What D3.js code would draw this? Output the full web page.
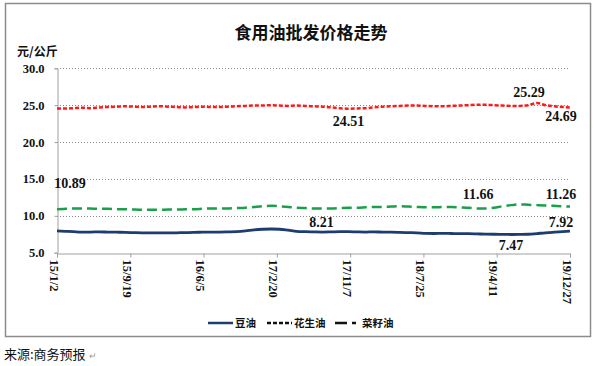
<!DOCTYPE html>
<html><head><meta charset="utf-8">
<script src="https://cdn.jsdelivr.net/npm/d3@7"></script>
<style>body{margin:0;background:#fff}svg{display:block}</style>
</head><body><svg id="c" width="594" height="366"></svg>
<script>
const dates = ["2015-01-02","2015-02-01","2015-03-01","2015-04-01","2015-05-01","2015-06-01","2015-07-01","2015-08-01","2015-09-01","2015-10-01","2015-11-01","2015-12-01",
"2016-01-01","2016-02-01","2016-03-01","2016-04-01","2016-05-01","2016-06-01","2016-07-01","2016-08-01","2016-09-01","2016-10-01","2016-11-01","2016-12-01",
"2017-01-01","2017-02-01","2017-03-01","2017-04-01","2017-05-01","2017-06-01","2017-07-01","2017-08-01","2017-09-01","2017-10-01","2017-11-01","2017-12-01",
"2018-01-01","2018-02-01","2018-03-01","2018-04-01","2018-05-01","2018-06-01","2018-07-01","2018-08-01","2018-09-01","2018-10-01","2018-11-01","2018-12-01",
"2019-01-01","2019-02-01","2019-03-01","2019-04-01","2019-05-01","2019-06-01","2019-07-01","2019-08-01","2019-09-01","2019-10-01","2019-11-01","2019-12-01","2019-12-27"];
const soybean = [7.95,7.9,7.85,7.8,7.8,7.82,7.8,7.78,7.75,7.72,7.7,7.7,
7.7,7.68,7.7,7.72,7.75,7.78,7.8,7.8,7.82,7.85,7.95,8.1,
8.18,8.21,8.18,8.05,7.9,7.85,7.82,7.8,7.82,7.85,7.85,7.82,
7.8,7.82,7.8,7.78,7.75,7.72,7.7,7.62,7.6,7.62,7.6,7.58,
7.58,7.55,7.52,7.5,7.48,7.47,7.48,7.5,7.6,7.7,7.78,7.85,7.92];
const peanut = [24.55,24.55,24.6,24.65,24.6,24.7,24.75,24.8,24.85,24.8,24.75,24.8,
24.85,24.8,24.75,24.7,24.75,24.8,24.75,24.75,24.8,24.85,24.9,24.95,
24.95,25.0,24.95,24.9,24.95,24.9,24.85,24.8,24.7,24.6,24.51,24.55,
24.6,24.7,24.8,24.85,24.9,24.95,24.95,24.9,24.85,24.85,24.9,24.95,
25.0,25.05,25.05,25.0,24.95,24.9,24.9,25.0,25.29,25.0,24.85,24.75,24.69];
const rapeseed = [10.89,10.95,11.0,11.0,10.98,10.95,10.95,10.9,10.9,10.85,10.82,10.82,
10.82,10.85,10.85,10.88,10.9,10.95,11.0,11.0,11.0,11.05,11.1,11.2,
11.3,11.35,11.3,11.2,11.1,11.05,11.0,11.0,11.0,11.05,11.1,11.1,
11.15,11.2,11.2,11.25,11.3,11.25,11.2,11.15,11.15,11.2,11.2,11.15,
11.1,11.0,11.0,11.1,11.3,11.45,11.55,11.5,11.45,11.4,11.35,11.3,11.26];
const seriesNames = ["豆油","花生油","菜籽油"];
const xTickDates = ["2015-01-02","2015-09-19","2016-06-05","2017-02-20","2017-11-07","2018-07-25","2019-04-11","2019-12-27"];
const xTickLabels = ["15/1/2","15/9/19","16/6/5","17/2/20","17/11/7","18/7/25","19/4/11","19/12/27"];
const yTicks = [5,10,15,20,25,30];
const annotations = [
  {date:"2015-01-02", value:10.89, text:"10.89", dx:13, dy:-21},
  {date:"2017-02-01", value:8.21, text:"8.21", dx:50, dy:-2},
  {date:"2019-12-27", value:7.92, text:"7.92", dx:-9, dy:-4},
  {date:"2019-06-01", value:7.47, text:"7.47", dx:0, dy:16},
  {date:"2017-11-01", value:24.51, text:"24.51", dx:0, dy:17},
  {date:"2019-09-01", value:25.29, text:"25.29", dx:-8, dy:-6},
  {date:"2019-12-27", value:24.69, text:"24.69", dx:-9, dy:14},
  {date:"2019-02-04", value:11.66, text:"11.66", dx:0, dy:-5},
  {date:"2019-12-27", value:11.26, text:"11.26", dx:-9, dy:-8}
];

const parse = d3.timeParse("%Y-%m-%d");
const svg = d3.select("#c");
const x = d3.scaleTime().domain([parse(dates[0]), parse(dates[dates.length-1])]).range([57, 570]);
const y = d3.scaleLinear().domain([5, 30]).range([252.7, 68.3]);
const serif = "'Liberation Serif','Times New Roman',serif";
const cjk = "'Noto Sans CJK SC',sans-serif";

// frame
svg.append("rect").attr("x",5.5).attr("y",3.5).attr("width",585).attr("height",333)
  .attr("fill","none").attr("stroke","#8c8c8c").attr("stroke-width",1.5);

// title
svg.append("text").attr("x",311).attr("y",39).attr("text-anchor","middle")
  .attr("font-family",cjk).attr("font-weight",700).attr("font-size",17).attr("fill","#111")
  .text("食用油批发价格走势");
svg.append("text").attr("x",17).attr("y",56)
  .attr("font-family",cjk).attr("font-weight",700).attr("font-size",12).attr("fill","#111")
  .text("元/公斤");

// gridlines
svg.append("g").selectAll("line").data(yTicks.filter(v=>v>5)).join("line")
  .attr("x1",57).attr("x2",570).attr("y1",d=>Math.round(y(d))+0.5).attr("y2",d=>Math.round(y(d))+0.5)
  .attr("stroke","#8a8a8a").attr("stroke-width",1).attr("stroke-dasharray","1,2");

// y axis
const yAxis = svg.append("g").attr("transform","translate(57.5,0)")
  .call(d3.axisLeft(y).tickValues(yTicks).tickFormat(d3.format(".1f")).tickSize(3).tickPadding(10));
yAxis.select(".domain").attr("stroke","#a0a0a0");
yAxis.selectAll(".tick line").attr("stroke","#a0a0a0");
yAxis.selectAll("text").attr("font-family",serif).attr("font-weight",700).attr("font-size",12.5).attr("fill","#111");

// x axis
const xAxis = svg.append("g").attr("transform",`translate(0,${Math.round(y(5))+0.5})`)
  .call(d3.axisBottom(x).tickValues(xTickDates.map(parse)).tickFormat((d,i)=>xTickLabels[i]).tickSize(4).tickPadding(0));
xAxis.select(".domain").attr("stroke","#a0a0a0");
xAxis.selectAll(".tick line").attr("stroke","#a0a0a0");
xAxis.selectAll("text").attr("font-family",serif).attr("font-weight",700).attr("font-size",12.5).attr("fill","#111")
  .attr("text-anchor","start").attr("dy",0).attr("transform","translate(-4,6) rotate(90)");

// lines
const mk = vals => d3.line().x((d,i)=>x(parse(dates[i]))).y(d=>y(d)).curve(d3.curveMonotoneX)(vals);
svg.append("path").attr("d",mk(rapeseed)).attr("fill","none").attr("stroke","#1aa04a").attr("stroke-width",2.5).attr("stroke-dasharray","10,5");
svg.append("path").attr("d",mk(peanut)).attr("fill","none").attr("stroke","#ff1a1a").attr("stroke-width",2.5).attr("stroke-dasharray","4,2");
svg.append("path").attr("d",mk(soybean)).attr("fill","none").attr("stroke","#1f3c70").attr("stroke-width",2.8);

// annotations
svg.append("g").selectAll("text").data(annotations).join("text")
  .attr("x",d=>x(parse(d.date))+d.dx).attr("y",d=>y(d.value)+d.dy)
  .attr("text-anchor","middle").attr("font-family",serif).attr("font-weight",700).attr("font-size",14).attr("fill","#111")
  .text(d=>d.text);

// legend
const legend = [
  {name:seriesNames[0], color:"#1f3c70", dash:null, x:208},
  {name:seriesNames[1], color:"#111", dash:"4,2", x:267},
  {name:seriesNames[2], color:"#111", dash:"12,5,4,5", x:335}
];
const lg = svg.append("g");
legend.forEach(l=>{
  lg.append("line").attr("x1",l.x).attr("x2",l.x+25).attr("y1",323).attr("y2",323)
    .attr("stroke",l.color).attr("stroke-width",2.5).attr("stroke-dasharray",l.dash);
  lg.append("text").attr("x",l.x+27).attr("y",327).attr("font-family",cjk).attr("font-weight",700)
    .attr("font-size",10.5).attr("fill","#111").text(l.name);
});

// source
svg.append("text").attr("x",4).attr("y",359).attr("font-family",cjk).attr("font-size",13).attr("fill","#111").text("来源:商务预报");
svg.append("text").attr("x",89).attr("y",359).attr("font-family",cjk).attr("font-size",9).attr("fill","#999").text("↵");
</script></body></html>
